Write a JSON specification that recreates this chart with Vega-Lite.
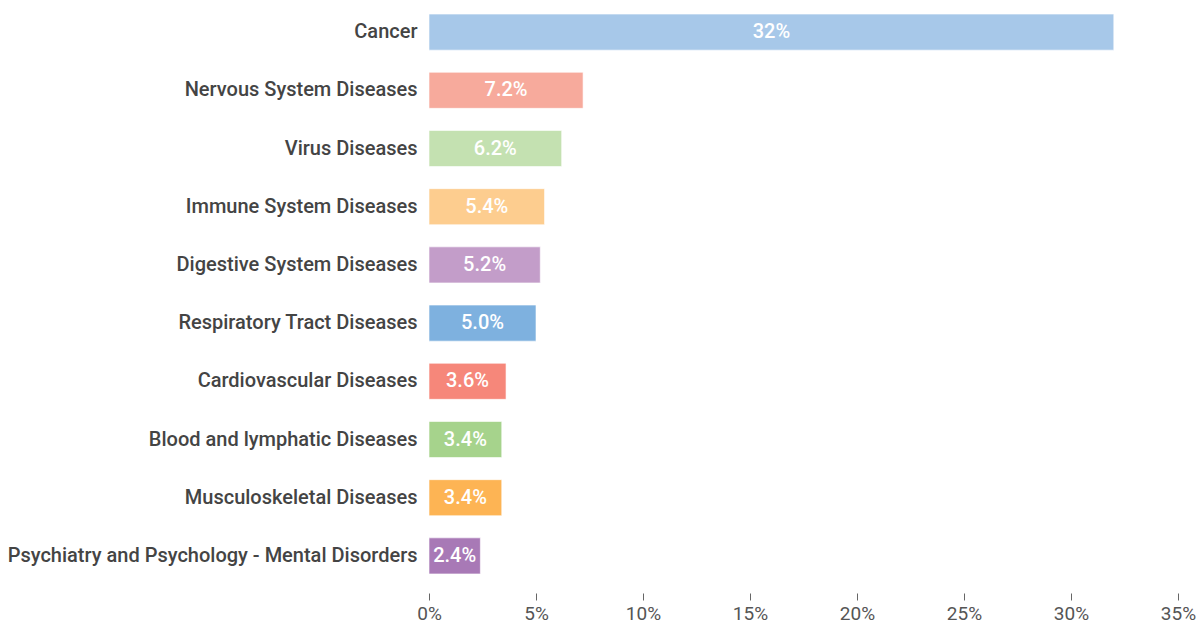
{
  "$schema": "https://vega.github.io/schema/vega-lite/v6.json",
  "width": 749,
  "height": 582,
  "autosize": {"type": "none"},
  "padding": {"left": 429, "top": 3, "right": 23, "bottom": 40},
  "background": "white",
  "config": {"view": {"stroke": null}, "font": "Roboto"},
  "data": {
    "values": [
      {"category": "Cancer", "value": 0.32, "color": "#a7c8e9"},
      {"category": "Nervous System Diseases", "value": 0.072, "color": "#f7aa9c"},
      {"category": "Virus Diseases", "value": 0.062, "color": "#c4e1b1"},
      {"category": "Immune System Diseases", "value": 0.054, "color": "#fdcd8f"},
      {"category": "Digestive System Diseases", "value": 0.052, "color": "#c39dc9"},
      {"category": "Respiratory Tract Diseases", "value": 0.05, "color": "#7eb1df"},
      {"category": "Cardiovascular Diseases", "value": 0.036, "color": "#f6877a"},
      {"category": "Blood and lymphatic Diseases", "value": 0.034, "color": "#a6d38c"},
      {"category": "Musculoskeletal Diseases", "value": 0.034, "color": "#fdb454"},
      {"category": "Psychiatry and Psychology - Mental Disorders", "value": 0.024, "color": "#a879b6"}
    ]
  },
  "transform": [{"calculate": "datum.value / 2", "as": "mid"}],
  "encoding": {
    "y": {
      "field": "category",
      "type": "nominal",
      "sort": null,
      "scale": {"paddingInner": 0.38, "paddingOuter": 0.19},
      "axis": {
        "title": null,
        "domain": false,
        "ticks": false,
        "labelPadding": 12,
        "labelFontSize": 20,
        "labelFontWeight": 500,
        "labelColor": "#444444",
        "labelLimit": 500
      }
    }
  },
  "layer": [
    {
      "mark": {"type": "bar", "stroke": "white", "strokeWidth": 1, "strokeOpacity": 0.6},
      "encoding": {
        "x": {
          "field": "value",
          "type": "quantitative",
          "scale": {"domain": [0, 0.35], "nice": false},
          "axis": {
            "title": null,
            "values": [0, 0.05, 0.1, 0.15, 0.2, 0.25, 0.3, 0.35],
            "format": "%",
            "grid": false,
            "domain": false,
            "offset": 8,
            "tickSize": 7,
            "tickColor": "#666666",
            "labelFlush": false,
            "labelFontSize": 19,
            "labelColor": "#555555",
            "labelPadding": 4
          }
        },
        "color": {"field": "color", "type": "nominal", "scale": null, "legend": null}
      }
    },
    {
      "mark": {"type": "text", "align": "center", "baseline": "middle", "color": "white", "fontSize": 20, "fontWeight": 500},
      "encoding": {
        "x": {"field": "mid", "type": "quantitative"},
        "text": {"field": "value", "type": "quantitative", "format": ".2p"}
      }
    }
  ]
}
